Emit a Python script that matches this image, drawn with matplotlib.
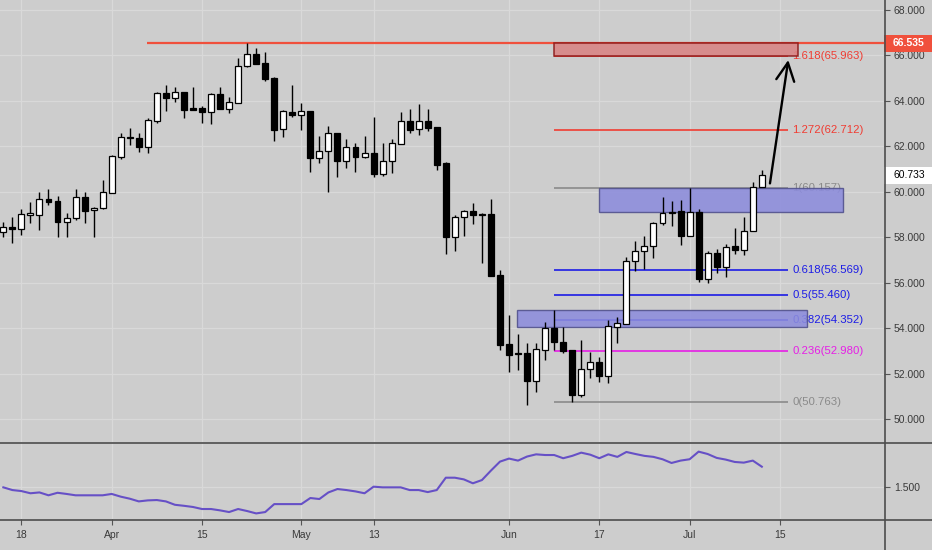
import matplotlib
matplotlib.use("Agg")
import matplotlib.pyplot as plt
from matplotlib.patches import Rectangle
from matplotlib.lines import Line2D
import matplotlib.transforms as mtransforms

# daily candles, bar index 0 = Mar 18
first_bar = -2
opens = [58.24, 58.43, 58.35, 59.00, 58.98, 59.68, 59.59, 58.68, 58.83, 59.78,
         59.18, 59.27, 59.96, 61.54, 62.40, 62.35, 61.99, 63.13, 64.33, 64.11,
         64.41, 63.66, 63.70, 63.53, 64.29, 63.66, 63.92, 65.55, 66.06, 65.68,
         65.02, 62.75, 63.53, 63.38, 63.56, 61.50, 61.80, 62.57, 61.35, 61.96,
         61.55, 61.72, 60.78, 61.35, 62.09, 63.13, 62.75, 63.13, 62.87, 61.25,
         58.02, 58.88, 59.15, 59.00, 59.01, 56.34, 53.29, 52.87, 52.89, 51.69,
         53.04, 54.02, 53.40, 53.04, 51.08, 52.20, 52.52, 51.91, 54.06, 54.18,
         56.97, 57.41, 57.61, 58.61, 59.05, 59.15, 58.05, 59.09, 56.16, 57.32,
         56.67, 57.61, 57.44, 58.29, 60.22]
highs = [58.68, 58.90, 59.24, 59.54, 60.00, 60.12, 59.83, 59.08, 60.12, 59.97,
         59.34, 60.52, 61.62, 62.57, 62.79, 62.57, 63.23, 64.38, 64.70, 64.60,
         64.41, 64.60, 63.77, 64.36, 64.60, 64.16, 65.87, 66.535, 66.31, 66.17,
         65.07, 63.60, 64.70, 63.89, 63.56, 62.45, 62.90, 62.57, 62.31, 62.16,
         62.45, 63.31, 62.13, 62.31, 63.50, 63.64, 63.86, 63.63, 62.87, 61.33,
         58.98, 59.20, 59.49, 59.05, 59.67, 56.56, 54.58, 53.73, 53.36, 53.33,
         54.28, 54.80, 54.06, 53.04, 53.48, 52.96, 52.74, 54.36, 54.50, 57.11,
         57.83, 58.07, 58.68, 59.78, 59.59, 59.64, 60.15, 59.24, 57.39, 57.47,
         57.70, 58.39, 58.90, 60.44, 60.94]
lows = [58.02, 57.73, 58.10, 58.61, 58.32, 59.42, 58.02, 57.99, 58.75, 58.64,
        58.02, 59.24, 59.93, 61.44, 62.06, 61.76, 61.69, 63.04, 63.55, 63.94,
        63.26, 63.63, 63.01, 62.97, 63.63, 63.48, 63.89, 65.48, 65.61, 64.89,
        62.23, 62.43, 63.28, 62.72, 60.89, 61.28, 60.01, 60.67, 61.03, 60.89,
        61.47, 60.67, 60.71, 60.84, 62.09, 62.57, 62.50, 62.68, 60.96, 57.25,
        57.41, 58.07, 58.58, 56.85, 56.29, 53.04, 52.08, 52.16, 50.62, 51.20,
        52.60, 53.04, 52.92, 50.763, 50.98, 51.79, 51.61, 51.57, 53.33, 54.18,
        56.51, 56.60, 57.10, 58.54, 58.49, 57.66, 58.05, 56.01, 55.97, 56.41,
        56.26, 57.26, 57.22, 58.29, 60.19]
closes = [58.43, 58.35, 59.01, 59.02, 59.68, 59.56, 58.68, 58.83, 59.78, 59.17,
          59.30, 59.97, 61.57, 62.40, 62.37, 61.99, 63.16, 64.33, 64.11, 64.38,
          63.60, 63.62, 63.53, 64.29, 63.66, 63.95, 65.55, 66.06, 65.62, 64.98,
          62.72, 63.55, 63.38, 63.55, 61.47, 61.81, 62.57, 61.35, 61.96, 61.55,
          61.72, 60.78, 61.37, 62.13, 63.13, 62.72, 63.13, 62.82, 61.18, 58.02,
          58.90, 59.15, 58.98, 58.98, 56.29, 53.26, 52.82, 52.85, 51.69, 53.07,
          54.02, 53.40, 52.99, 51.08, 52.20, 52.49, 51.91, 54.09, 54.21, 56.97,
          57.41, 57.61, 58.61, 59.05, 59.12, 58.05, 59.09, 56.16, 57.32, 56.67,
          57.58, 57.44, 58.29, 60.22, 60.733]

indicator = [1.498, 1.482, 1.476, 1.463, 1.468, 1.451, 1.466, 1.459, 1.451, 1.451,
             1.451, 1.451, 1.459, 1.443, 1.431, 1.415, 1.421, 1.423, 1.415, 1.395,
             1.389, 1.382, 1.370, 1.370, 1.362, 1.352, 1.370, 1.358, 1.344, 1.352,
             1.399, 1.399, 1.399, 1.399, 1.435, 1.429, 1.468, 1.488, 1.482, 1.474,
             1.463, 1.502, 1.498, 1.498, 1.498, 1.482, 1.482, 1.470, 1.482, 1.555,
             1.555, 1.545, 1.522, 1.541, 1.597, 1.650, 1.668, 1.656, 1.680, 1.693,
             1.689, 1.689, 1.670, 1.684, 1.703, 1.691, 1.670, 1.693, 1.678, 1.707,
             1.695, 1.684, 1.678, 1.664, 1.642, 1.656, 1.664, 1.709, 1.695, 1.672,
             1.662, 1.648, 1.644, 1.656, 1.620]

bars = list(range(first_bar, first_bar + len(opens)))

tick_bars = [0, 10, 20, 31, 39, 54, 64, 74, 84]
tick_labels = ['18', 'Apr', '15', 'May', '13', 'Jun', '17', 'Jul', '15']
price_ticks = [50, 52, 54, 56, 58, 60, 62, 64, 66, 68]

fib_ratios = ['1.618', '1.272', '1', '0.618', '0.5', '0.382', '0.236', '0']
fib_levels = [65.963, 62.712, 60.157, 56.569, 55.460, 54.352, 52.980, 50.763]
fib_colors = ['#f03c32', '#f03c32', '#8a8a8a', '#1c1ce6', '#1c1ce6', '#1c1ce6', '#e61ee6', '#8a8a8a']
fib_start, fib_end = 59, 84.9

resistance = 66.535
resistance_start = 13.9
last_price = 60.733
target_zone = (59, 86.0, 65.963, 66.535)
demand_zones = [(64.0, 91.0, 59.12, 60.157), (54.9, 87.0, 54.06, 54.80)]
arrow_from = (82.9, 60.37)
arrow_to = (84.93, 65.80)

bg = '#cdcdcd'
grid_c = '#d9d9d9'
txt_c = '#3a3a3a'
plt.rcParams['font.family'] = ['Liberation Sans', 'DejaVu Sans']

fig = plt.figure(figsize=(9.32, 5.5), dpi=100, facecolor=bg)
ax = fig.add_axes([0, 108 / 550, 884 / 932, 442 / 550], facecolor=bg)
ax2 = fig.add_axes([0, 31 / 550, 884 / 932, 76 / 550], facecolor=bg, sharex=ax)

ax.set_xlim(-2.37, 95.53)
ax.set_ylim(48.99, 68.44)
ax2.set_ylim(1.311, 1.760)

for a in (ax, ax2):
    for s in a.spines.values():
        s.set_visible(False)
    a.set_xticks(tick_bars)
    a.grid(True, color=grid_c, lw=0.9, zorder=0)
    a.set_axisbelow(True)
    a.yaxis.tick_right()
    a.tick_params(axis='y', length=4, width=0.8, color='#555555', pad=3,
                  labelsize=7.5, labelcolor=txt_c)

ax.set_yticks(price_ticks)
ax.set_yticklabels([f'{p:.3f}' for p in price_ticks])
ax.tick_params(axis='x', length=0, labelbottom=False)
ax2.set_yticks([1.5])
ax2.set_yticklabels(['1.500'])
ax2.set_xticklabels(tick_labels)
ax2.tick_params(axis='x', length=4, width=0.8, color='#555555', pad=4,
                labelsize=7.5, labelcolor=txt_c)

# candles
for b, o, h, l, c in zip(bars, opens, highs, lows, closes):
    ax.vlines(b, l, h, color='black', lw=1.0, zorder=3)
    up = c >= o
    bottom = min(o, c)
    height = max(abs(c - o), 0.05)
    ax.add_patch(Rectangle((b - 0.33, bottom), 0.66, height,
                           facecolor='white' if up else 'black',
                           edgecolor='black', lw=0.9, zorder=4))

# fibonacci levels
for r, lvl, col in zip(fib_ratios, fib_levels, fib_colors):
    ax.hlines(lvl, fib_start, fib_end, color=col, lw=1.2, zorder=1)
    ax.text(85.4, lvl, f'{r}({lvl:.3f})', color=col, fontsize=8.2,
            va='center', ha='left', zorder=1)

# resistance line
ax.hlines(resistance, resistance_start, 95.53, color='#f0503c', lw=1.6, zorder=2)

# zones
x0, x1, y0, y1 = target_zone
ax.add_patch(Rectangle((x0, y0), x1 - x0, y1 - y0, facecolor='#d98585',
                       edgecolor='#8b1616', lw=1.1, alpha=0.9, zorder=2))
for x0, x1, y0, y1 in demand_zones:
    ax.add_patch(Rectangle((x0, y0), x1 - x0, y1 - y0, facecolor='#8c8cdc',
                           edgecolor='#50508c', lw=1.0, alpha=0.88, zorder=2))

ax.annotate('', xy=arrow_to, xytext=arrow_from,
            arrowprops=dict(arrowstyle='->,head_length=1.0,head_width=0.5',
                            mutation_scale=13, color='black', lw=1.7,
                            shrinkA=0, shrinkB=0), zorder=5)

# price tags on the axis
trans = mtransforms.blended_transform_factory(ax.transAxes, ax.transData)
for price, face, fcol in [(resistance, '#f0503c', 'white'), (last_price, 'white', 'black')]:
    ax.add_patch(Rectangle((1.0, price - 0.37), 48 / 884, 0.74, transform=trans,
                           facecolor=face, edgecolor='none', clip_on=False, zorder=6))
    ax.text(1.0 + 9 / 884, price, f'{price:.3f}', transform=trans, color=fcol,
            fontsize=7.5, va='center', ha='left', zorder=7, clip_on=False,
            fontweight='bold' if face != 'white' else 'normal')

# indicator
ax2.plot(bars, indicator, color='#6650c6', lw=1.5, zorder=3)

# panel separators
sep = '#4d4d4d'
fig.add_artist(Line2D([0, 1], [107.5 / 550] * 2, transform=fig.transFigure, color=sep, lw=1.2))
fig.add_artist(Line2D([0, 1], [30.5 / 550] * 2, transform=fig.transFigure, color=sep, lw=1.2))
fig.add_artist(Line2D([884.5 / 932] * 2, [0, 1], transform=fig.transFigure, color=sep, lw=1.2))

fig.savefig('out.png', dpi=100, facecolor=bg)
